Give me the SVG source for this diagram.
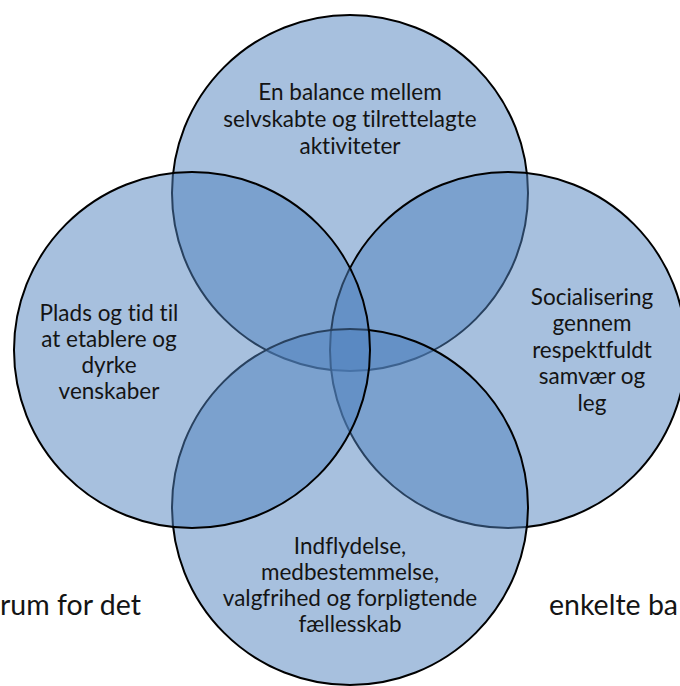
<svg xmlns="http://www.w3.org/2000/svg" width="680" height="686" viewBox="0 0 680 686">
<style>
.c{fill:#4F81BD;fill-opacity:0.5;stroke:#000;stroke-width:2}
.t{font-family:Lato,"Open Sans",sans-serif;font-size:22.5px;fill:#141414;text-anchor:middle;font-variant-ligatures:none}
.bg{font-family:Lato,"Open Sans",sans-serif;font-size:28.5px;fill:#141414;font-variant-ligatures:none}
</style>
<rect width="680" height="686" fill="#fff"/>
<text class="bg" x="0" y="615">rum for det</text>
<text class="bg" x="549" y="615">enkelte ba</text>
<g id="top">
<circle class="c" cx="350" cy="193" r="178"/>
<text class="t" x="350" y="100">En balance mellem</text>
<text class="t" x="350" y="127">selvskabte og tilrettelagte</text>
<text class="t" x="350" y="154">aktiviteter</text>
</g>
<g id="right">
<circle class="c" cx="508" cy="350" r="178"/>
<text class="t" x="592" y="305">Socialisering</text>
<text class="t" x="592" y="331">gennem</text>
<text class="t" x="592" y="358">respektfuldt</text>
<text class="t" x="592" y="384">samvær og</text>
<text class="t" x="592" y="411">leg</text>
</g>
<g id="bottom">
<circle class="c" cx="350" cy="507" r="178"/>
<text class="t" x="350" y="554">Indflydelse,</text>
<text class="t" x="350" y="580">medbestemmelse,</text>
<text class="t" x="350" y="606">valgfrihed og forpligtende</text>
<text class="t" x="350" y="632">fællesskab</text>
</g>
<g id="left">
<circle class="c" cx="192" cy="350" r="178"/>
<text class="t" x="109" y="321">Plads og tid til</text>
<text class="t" x="109" y="347">at etablere og</text>
<text class="t" x="109" y="373">dyrke</text>
<text class="t" x="109" y="399">venskaber</text>
</g>
</svg>
